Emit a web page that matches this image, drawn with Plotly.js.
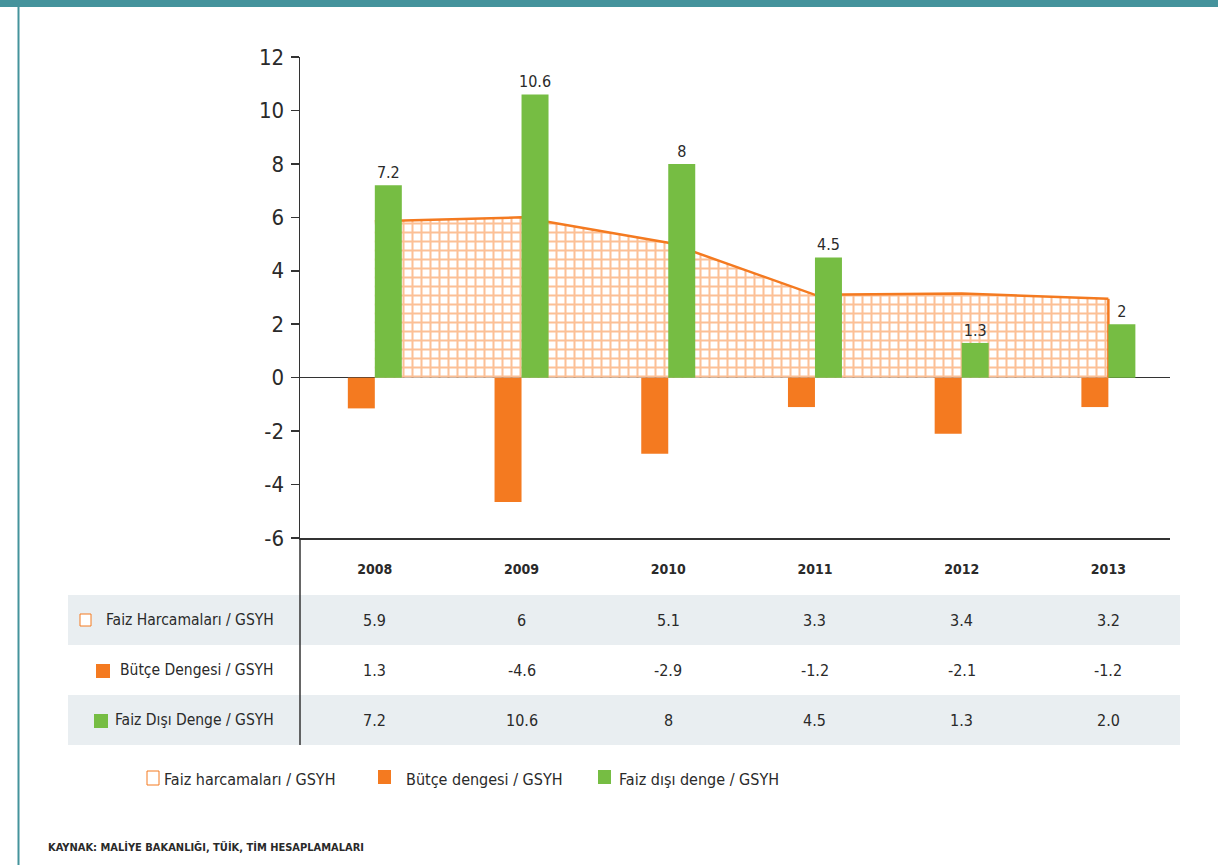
<!DOCTYPE html>
<html><head><meta charset="utf-8">
<script src="https://cdn.plot.ly/plotly-3.0.1.min.js"></script>
<style>html,body{margin:0;padding:0;background:#fff;} #chart{width:1218px;height:865px;}</style>
</head><body><div id="chart"></div>
<script>
const years = ['2008','2009','2010','2011','2012','2013'];
const faizHarcamalari = [5.85, 6.0, 5.05, 3.1, 3.15, 2.95];
const butceDengesi = [-1.15, -4.65, -2.85, -1.1, -2.1, -1.1];
const faizDisiDenge = [7.2, 10.6, 8, 4.5, 1.3, 2];
const faizDisiLabels = ['7.2','10.6','8','4.5','1.3','2'];
const tableFaizHarc = ['5.9','6','5.1','3.3','3.4','3.2'];
const tableButce = ['1.3','-4.6','-2.9','-1.2','-2.1','-1.2'];
const tableFaizDisi = ['7.2','10.6','8','4.5','1.3','2.0'];
const rowLabels = ['Faiz Harcamaları / GSYH','Bütçe Dengesi / GSYH','Faiz Dışı Denge / GSYH'];
const legendLabels = ['Faiz harcamaları / GSYH','Bütçe dengesi / GSYH','Faiz dışı denge / GSYH'];
const yTicks = [-6,-4,-2,0,2,4,6,8,10,12];
const yTickText = ['-6','-4','-2','0','2','4','6','8','10','12'];
const sourceText = 'KAYNAK: MALİYE BAKANLIĞI, TÜİK, TİM HESAPLAMALARI';

const ORANGE = '#f47a20', GREEN = '#76bd43', TEAL = '#45939c', TXT = '#2a2a2a', ROWBG = '#e9eef1';
const FONT = '"Liberation Sans Narrow", "DejaVu Sans Condensed", "Roboto Condensed", Roboto, sans-serif';

const W = 1218, H = 865, L = 300, R = 1170, T = 57, B = 538;
const px = x => (x - L) / (R - L);
const py = y => (B - y) / (B - T);

const last = years.length - 1;
const traces = [
  {type:'scatter', mode:'lines', x: years, y: faizHarcamalari, fill:'tozeroy', xaxis:'x', yaxis:'y',
   line:{color: ORANGE, width: 2.5},
   fillpattern:{shape:'+', size:9, solidity:0.4, fgcolor:'#fcc096', bgcolor:'#ffffff'},
   hoverinfo:'skip', showlegend:false},
  {type:'scatter', mode:'lines', x:[years[last], years[last]], y:[faizHarcamalari[last], 0], xaxis:'x', yaxis:'y',
   line:{color: ORANGE, width: 2.5}, hoverinfo:'skip', showlegend:false},
  {type:'bar', x: years, y: butceDengesi, xaxis:'x', yaxis:'y2', marker:{color: ORANGE}, showlegend:false, textposition:'none'},
  {type:'bar', x: years, y: faizDisiDenge, xaxis:'x', yaxis:'y2', marker:{color: GREEN}, showlegend:false,
   text: faizDisiLabels, textposition:'outside', cliponaxis:false, constraintext:'none',
   textfont:{family: FONT, size: 16, color: TXT}}
];

const shapes = [
  {type:'rect', xref:'paper', yref:'paper', x0:px(0), x1:px(W), y0:py(0), y1:py(7), fillcolor:TEAL, line:{width:0}},
  {type:'line', xref:'paper', yref:'paper', x0:px(18.5), x1:px(18.5), y0:py(7), y1:py(H), line:{color:TEAL, width:2}},
  {type:'rect', xref:'paper', yref:'paper', x0:px(68), x1:px(1180), y0:py(595), y1:py(645), fillcolor:ROWBG, line:{width:0}, layer:'below'},
  {type:'rect', xref:'paper', yref:'paper', x0:px(68), x1:px(1180), y0:py(695), y1:py(745), fillcolor:ROWBG, line:{width:0}, layer:'below'},
  {type:'line', xref:'paper', yref:'paper', x0:0, x1:0, y0:py(538), y1:py(745), line:{color:'#333', width:1.5}},
  {type:'rect', xref:'paper', yref:'paper', x0:px(80), x1:px(91), y0:py(614), y1:py(626), fillcolor:'#fff', line:{color:ORANGE, width:1}},
  {type:'rect', xref:'paper', yref:'paper', x0:px(96), x1:px(110), y0:py(664), y1:py(678), fillcolor:ORANGE, line:{width:0}},
  {type:'rect', xref:'paper', yref:'paper', x0:px(94), x1:px(108), y0:py(714), y1:py(728), fillcolor:GREEN, line:{width:0}},
  {type:'rect', xref:'paper', yref:'paper', x0:px(147), x1:px(159), y0:py(771), y1:py(785), fillcolor:'#fff', line:{color:ORANGE, width:1}},
  {type:'rect', xref:'paper', yref:'paper', x0:px(378), x1:px(391), y0:py(770), y1:py(784), fillcolor:ORANGE, line:{width:0}},
  {type:'rect', xref:'paper', yref:'paper', x0:px(598), x1:px(611), y0:py(770), y1:py(784), fillcolor:GREEN, line:{width:0}}
];

const annotations = [];
const rowY = [620, 670, 720];
const tableRows = [tableFaizHarc, tableButce, tableFaizDisi];
tableRows.forEach((row, r) => {
  row.forEach((v, i) => annotations.push({xref:'x', yref:'paper', x: i, y: py(rowY[r]), text: v,
    showarrow:false, font:{family:FONT, size:16, color:TXT}, xanchor:'center', yanchor:'middle'}));
  annotations.push({xref:'paper', yref:'paper', x: px(276), y: py(rowY[r]), text: rowLabels[r], showarrow:false,
    xanchor:'right', yanchor:'middle', font:{family:FONT, size:15.5, color:TXT}});
});
const legX = [162, 404, 617];
legendLabels.forEach((t, i) => annotations.push({xref:'paper', yref:'paper', x: px(legX[i]), y: py(779), text: t,
  showarrow:false, xanchor:'left', yanchor:'middle', font:{family:FONT, size:16, color:TXT}}));
annotations.push({xref:'paper', yref:'paper', x: px(46), y: py(847), text: '<b>' + sourceText + '</b>', showarrow:false,
  xanchor:'left', yanchor:'middle', font:{family:FONT, size:11, color:TXT}});

const layout = {
  width: W, height: H,
  margin: {l: L, r: W - R, t: T, b: H - B, pad: 0},
  paper_bgcolor: '#fff', plot_bgcolor: 'rgba(0,0,0,0)',
  barmode: 'group', bargap: 0.632, bargroupgap: 0,
  showlegend: false,
  font: {family: FONT, color: TXT},
  xaxis: {type:'category', range:[-0.51, 5.42], showline:true, linecolor:'#333', linewidth:1.5,
    showgrid:false, zeroline:false, ticks:'', tickfont:{family:FONT, size:14, color:TXT, weight:'bold'},
    ticklabelstandoff: 18, fixedrange:true},
  yaxis: {range:[-6, 12], tickvals: yTicks, ticktext: yTickText, ticks:'outside', ticklen:8, tickwidth:1.5, tickcolor:'#333',
    showline:true, linecolor:'#333', linewidth:1.5, showgrid:false,
    zeroline:true, zerolinecolor:'#333', zerolinewidth:1.5,
    tickfont:{family:FONT, size:22, color:TXT}, ticklabelstandoff:2, fixedrange:true},
  yaxis2: {overlaying:'y', range:[-6, 12], visible:false, showgrid:false, zeroline:false, fixedrange:true},
  shapes: shapes,
  annotations: annotations
};

Plotly.newPlot('chart', traces, layout, {displayModeBar:false, staticPlot:true});
</script></body></html>
